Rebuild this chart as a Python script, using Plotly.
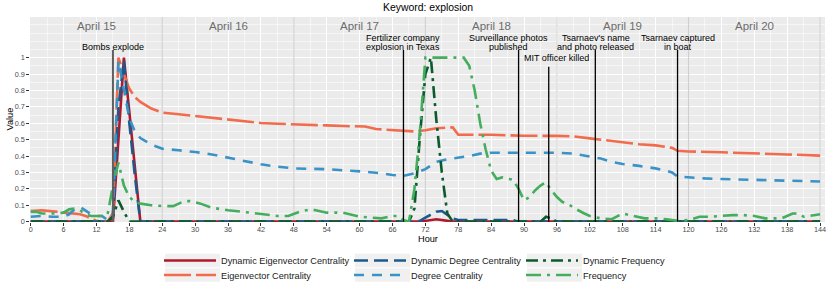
import plotly.graph_objects as go

# ---------------- data ----------------
eig_hours = [0, 2, 4, 6, 8, 9, 10, 11, 12, 13, 14, 15, 16, 17, 18, 19, 20, 22, 24, 27, 30, 33, 36, 39, 42, 45,
             48, 51, 54, 57, 60, 61, 63, 66, 68, 70, 72, 74, 77, 78, 84, 90, 96, 99, 102, 105, 108, 111, 114,
             116, 117, 118, 120, 126, 132, 138, 144]
eig_vals = [0.065, 0.07, 0.063, 0.055, 0.05, 0.045, 0.035, 0.02, 0.005, 0, 0, 0.05, 1.0, 0.9, 0.81, 0.76, 0.73,
            0.69, 0.665, 0.655, 0.645, 0.635, 0.625, 0.612, 0.602, 0.597, 0.595, 0.59, 0.587, 0.583, 0.58, 0.58,
            0.565, 0.557, 0.555, 0.55, 0.557, 0.57, 0.575, 0.53, 0.53, 0.524, 0.523, 0.52, 0.508, 0.495, 0.483,
            0.472, 0.465, 0.458, 0.45, 0.432, 0.428, 0.423, 0.418, 0.41, 0.403]

deg_hours = [0, 2, 4, 6, 7, 8, 9, 10, 11, 12, 13, 14, 15, 16, 17, 18, 19, 20, 22, 24, 27, 30, 33, 36, 39, 42,
             45, 48, 54, 58, 61, 64, 66, 68, 70, 72, 74, 76, 78, 80, 82, 84, 90, 96, 99, 102, 104, 106, 108,
             111, 114, 116, 117, 118, 120, 123, 126, 132, 138, 144]
deg_vals = [0.03, 0.035, 0.03, 0.03, 0.045, 0.075, 0.09, 0.065, 0.045, 0.035, 0.035, 0.01, 0.05, 0.98, 0.8,
            0.63, 0.55, 0.51, 0.47, 0.445, 0.435, 0.425, 0.41, 0.39, 0.37, 0.35, 0.335, 0.325, 0.32, 0.312,
            0.305, 0.295, 0.285, 0.28, 0.295, 0.32, 0.365, 0.38, 0.39, 0.4, 0.415, 0.42, 0.42, 0.42, 0.415,
            0.397, 0.385, 0.365, 0.352, 0.34, 0.325, 0.31, 0.3, 0.275, 0.27, 0.264, 0.26, 0.255, 0.248, 0.245]

dyn_eig_hours = [0, 15, 17, 20, 71, 72, 74, 76, 77, 144]
dyn_eig_vals = [0, 0, 1.0, 0, 0, 0.005, 0.015, 0.005, 0, 0]

dyn_deg_hours = [0, 14, 15, 16, 17, 18, 19, 20, 70, 71, 72, 73, 74, 75, 76, 77, 78, 88, 89, 144]
dyn_deg_vals = [0, 0, 0.03, 0.7, 0.98, 0.6, 0.28, 0, 0, 0.005, 0.025, 0.045, 0.06, 0.065, 0.04, 0.02, 0.01,
                0.01, 0, 0]

dyn_freq_hours = [0, 14, 15, 16, 17, 18, 69, 70, 71, 72, 73, 74, 75, 76, 77, 93, 94, 95, 96, 144]
dyn_freq_vals = [0, 0, 0.03, 0.13, 0.06, 0, 0, 0.08, 0.52, 0.9, 1.0, 0.62, 0.3, 0.05, 0, 0, 0.03, 0.02, 0, 0]

freq_hours = [0, 1, 2, 4, 6, 7, 8, 9, 10, 11, 13, 14, 15, 16, 17, 18, 19, 20, 22, 24, 26, 28, 29, 31, 33, 36,
              40, 43, 45, 47, 49, 51, 52, 54, 57, 60, 64, 66, 67, 68, 69, 70, 71, 72, 79, 80, 81, 82, 83, 84,
              85, 86, 88, 89, 90, 91, 92, 93, 94, 95, 96, 97, 98, 99, 100, 101, 102, 104, 106, 108, 110, 112,
              114, 116, 118, 120, 122, 124, 126, 128, 130, 132, 134, 137, 139, 140, 141, 143, 144]
freq_vals = [0.06, 0.06, 0.05, 0.05, 0.055, 0.075, 0.08, 0.07, 0.045, 0.035, 0.035, 0.04, 0.22, 0.36, 0.22,
             0.15, 0.12, 0.11, 0.1, 0.095, 0.095, 0.125, 0.125, 0.11, 0.085, 0.07, 0.055, 0.045, 0.035, 0.035,
             0.06, 0.075, 0.07, 0.055, 0.055, 0.03, 0.02, 0.035, 0.035, 0.01, 0.0, 0.2, 0.55, 1.0, 1.0, 0.95,
             0.8, 0.6, 0.44, 0.31, 0.26, 0.27, 0.255, 0.2, 0.13, 0.15, 0.19, 0.22, 0.24, 0.19, 0.15, 0.12, 0.11,
             0.085, 0.065, 0.05, 0.035, 0.02, 0.015, 0.05, 0.035, 0.02, 0.02, 0.015, 0.005, 0.01, 0.03, 0.03,
             0.035, 0.04, 0.04, 0.035, 0.02, 0.02, 0.05, 0.05, 0.03, 0.04, 0.045]

day_labels = ["April 15", "April 16", "April 17", "April 18", "April 19", "April 20"]
day_starts = [0, 24, 48, 72, 96, 120]
day_bounds = [24, 48, 72, 96, 120, 144]

event_hours = [15, 68, 89, 94.5, 103, 118]
event_labels = ["Bombs explode", "Fertilizer company\nexplosion in Texas", "Surveillance photos\npublished",
                "MIT officer killed", "Tsarnaev's name\nand photo released", "Tsarnaev captured\nin boat"]

x_ticks = list(range(0, 145, 6))
y_ticks = [0, 0.1, 0.2, 0.3, 0.4, 0.5, 0.6, 0.7, 0.8, 0.9, 1]
y_tick_text = ["0", "0.1", "0.2", "0.3", "0.4", "0.5", "0.6", "0.7", "0.8", "0.9", "1"]

# ---------------- layout positions/styles ----------------
event_label_x = [15, 68, 87.1, 96, 103.1, 118]
event_label_y = [1.067, 1.067, 1.067, 0.996, 1.067, 1.067]
event_line_top = [1.047, 1.047, 1.047, 0.945, 1.047, 1.047]
event_line_color = ["#5f5f5f", "black", "black", "black", "black", "black"]
event_line_width = [2, 1.3, 1.3, 1.3, 1.3, 1.3]

FONT = "Liberation Sans, Arial, Helvetica, sans-serif"

series = [
    ("Dynamic Eigenvector Centrality", dyn_eig_hours, dyn_eig_vals, "#B2182B", "solid"),
    ("Eigenvector Centrality", eig_hours, eig_vals, "#F26B4C", "27px,5px"),
    ("Dynamic Degree Centrality", dyn_deg_hours, dyn_deg_vals, "#1C5A8C", "14px,6px"),
    ("Degree Centrality", deg_hours, deg_vals, "#3A92C6", "10px,8px"),
    ("Dynamic Frequency", dyn_freq_hours, dyn_freq_vals, "#0B5B2E", "12px,5px,3px,5px"),
    ("Frequency", freq_hours, freq_vals, "#44AE5E", "15px,6px,3px,6px"),
]

W, H = 830, 297
ML, MR, MT, MB = 30, 5, 17, 75
PW, PH = W - ML - MR, H - MT - MB
col_key_left = [165, 355, 527]
row_center = [260.5, 275]
key_w, key_h = 55, 13.5


def px2paper_x(px):
    return (px - ML) / PW


def px2paper_y(py):
    return (H - MB - py) / PH


fig = go.Figure()
legend_layouts = {}
for i, (name, hx, vy, color, dash) in enumerate(series):
    col, row = i // 2, i % 2
    lname = "legend" if i == 0 else f"legend{i + 1}"
    fig.add_trace(go.Scatter(
        x=hx, y=vy, mode="lines", name=name,
        line=dict(color=color, width=2.6, dash=dash),
        legend=lname, showlegend=True, hoverinfo="skip"))
    legend_layouts[lname] = dict(
        x=px2paper_x(col_key_left[col] - 6), y=px2paper_y(row_center[row]),
        xanchor="left", yanchor="middle", orientation="v",
        bgcolor="rgba(0,0,0,0)", borderwidth=0, itemwidth=52,
        font=dict(family=FONT, size=9.2, color="#1a1a1a"))

shapes = []
for b in day_bounds:
    shapes.append(dict(type="line", xref="x", yref="y", x0=b, x1=b, y0=0, y1=1.25,
                       line=dict(color="#cfcfcf", width=1.1), layer="between"))
for h, top, c, w in zip(event_hours, event_line_top, event_line_color, event_line_width):
    shapes.append(dict(type="line", xref="x", yref="y", x0=h, x1=h, y0=0, y1=top,
                       line=dict(color=c, width=w), layer="above"))
for col in range(3):
    for row in range(2):
        shapes.append(dict(type="rect", xref="paper", yref="paper",
                           x0=px2paper_x(col_key_left[col]), x1=px2paper_x(col_key_left[col] + key_w),
                           y0=px2paper_y(row_center[row] + key_h / 2), y1=px2paper_y(row_center[row] - key_h / 2),
                           fillcolor="#f0f0f0", line=dict(width=0), layer="above"))

annotations = []
for d0, lab in zip(day_starts, day_labels):
    annotations.append(dict(x=d0 + 12, y=1.193, xref="x", yref="y", text=lab, showarrow=False,
                            font=dict(family=FONT, size=11.5, color="#6b6b6b"),
                            xanchor="center", yanchor="middle"))
for lx, ly, lab in zip(event_label_x, event_label_y, event_labels):
    lines = lab.split("\n")
    n = len(lines)
    for k, ln in enumerate(lines):
        annotations.append(dict(x=lx, y=ly, xref="x", yref="y", text=ln, showarrow=False,
                                yshift=(n - 1 - k) * 8.7,
                                font=dict(family=FONT, size=9, color="black"),
                                xanchor="center", yanchor="middle"))
annotations.append(dict(x=px2paper_x(427.5), y=px2paper_y(7.5), xref="paper", yref="paper",
                        text="Keyword: explosion", showarrow=False,
                        font=dict(family=FONT, size=10.4, color="black"), xanchor="center", yanchor="middle"))
annotations.append(dict(x=px2paper_x(428), y=px2paper_y(238.8), xref="paper", yref="paper",
                        text="Hour", showarrow=False,
                        font=dict(family=FONT, size=9.2, color="black"), xanchor="center", yanchor="middle"))
annotations.append(dict(x=px2paper_x(9), y=0.5, xref="paper", yref="paper",
                        text="Value", showarrow=False, textangle=-90,
                        font=dict(family=FONT, size=9.2, color="black"), xanchor="center", yanchor="middle"))

fig.update_layout(
    width=W, height=H,
    margin=dict(l=ML, r=MR, t=MT, b=MB, autoexpand=False),
    paper_bgcolor="white", plot_bgcolor="#EBEBEB",
    font=dict(family=FONT),
    shapes=shapes, annotations=annotations,
    **legend_layouts,
)
fig.update_xaxes(range=[-0.13, 144.9], tickvals=x_ticks, ticktext=[str(t) for t in x_ticks],
                 showgrid=True, gridcolor="white", gridwidth=1.1, zeroline=False, automargin=False,
                 ticks="outside", ticklen=2.7, tickwidth=1, tickcolor="#333333",
                 tickfont=dict(family=FONT, size=7.3, color="#4d4d4d"), ticklabelstandoff=-2,
                 minor=dict(dtick=3, tick0=0, showgrid=True, gridcolor="white", gridwidth=0.55),
                 showline=False, fixedrange=True)
fig.update_yaxes(range=[-0.002, 1.248], tickvals=y_ticks, ticktext=y_tick_text,
                 showgrid=True, gridcolor="white", gridwidth=1.1, zeroline=False, automargin=False,
                 ticks="outside", ticklen=2.7, tickwidth=1, tickcolor="#333333",
                 tickfont=dict(family=FONT, size=7.3, color="#4d4d4d"),
                 minor=dict(dtick=0.05, tick0=0, showgrid=True, gridcolor="white", gridwidth=0.55),
                 showline=False, fixedrange=True)

fig.write_html("out.html", config={"displayModeBar": False, "staticPlot": True},
               post_script="document.body.style.margin='0px';document.body.style.padding='0px';")
